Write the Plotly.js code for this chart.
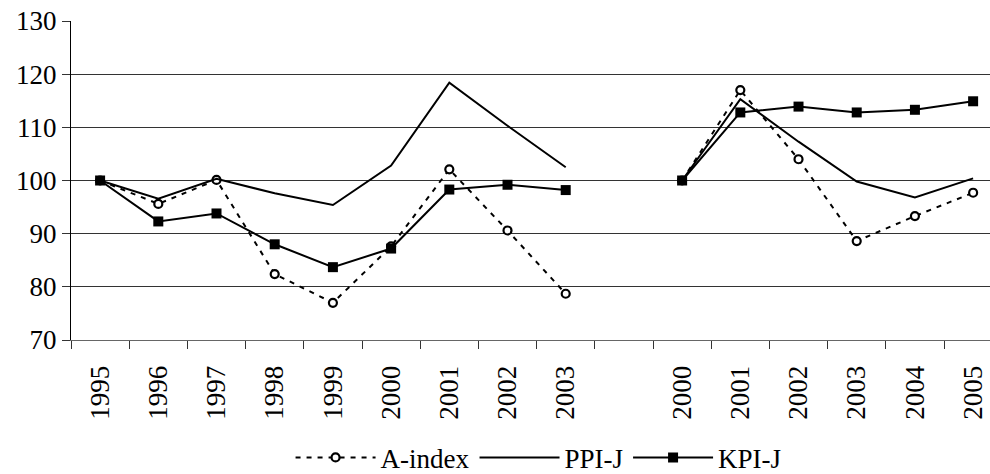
<!DOCTYPE html>
<html>
<head>
<meta charset="utf-8">
<script src="https://cdn.plot.ly/plotly-3.0.1.min.js"></script>
<style>html,body{margin:0;padding:0;background:#fff;}#chart{width:990px;height:474px;}</style>
</head>
<body>
<div id="chart"></div>
<script>
// Category labels (one empty slot separates the two periods)
var categories = ['1995','1996','1997','1998','1999','2000','2001','2002','2003','','2000','2001','2002','2003','2004','2005'];
// Series values (null = gap)
var aIndex = [100, 95.6, 100.1, 82.4, 77.0, 87.6, 102.1, 90.6, 78.7, null, 100, 117.0, 104.0, 88.6, 93.3, 97.7];
var ppiJ   = [100, 96.6, 100.3, 97.6, 95.4, 102.8, 118.4, 110.3, 102.5, null, 100, 115.3, 107.3, 99.8, 96.8, 100.4];
var kpiJ   = [100, 92.3, 93.8, 88.0, 83.7, 87.2, 98.3, 99.2, 98.2, null, 100, 112.8, 113.9, 112.8, 113.3, 114.9];

var pos = categories.map(function(c, i){ return i; });
var tickVals = [], tickText = [];
categories.forEach(function(c, i){ if (c !== '') { tickVals.push(i); tickText.push(c); } });

var font = {family: 'Liberation Serif, Times New Roman, serif', size: 27, color: '#000'};

var traces = [
  {x: pos, y: aIndex, name: 'A-index', type: 'scatter', mode: 'lines+markers', connectgaps: false,
   line: {color: '#000', width: 2, dash: '5px,6px'},
   marker: {symbol: 'circle', size: 8, color: '#fff', line: {color: '#000', width: 2.2}}},
  {x: pos, y: ppiJ, name: 'PPI-J', type: 'scatter', mode: 'lines', connectgaps: false,
   line: {color: '#000', width: 2}},
  {x: pos, y: kpiJ, name: 'KPI-J', type: 'scatter', mode: 'lines+markers', connectgaps: false,
   line: {color: '#000', width: 2},
   marker: {symbol: 'square', size: 10, color: '#000'}}
];

var layout = {
  width: 990, height: 474,
  margin: {l: 71, r: 0, t: 21, b: 134, pad: 0},
  paper_bgcolor: '#fff', plot_bgcolor: '#fff',
  font: font,
  showlegend: true,
  legend: {orientation: 'h', xref: 'container', yref: 'container', x: 0.544, xanchor: 'center',
           y: 0.034, yanchor: 'middle',
           font: font, itemwidth: 80, bgcolor: 'rgba(0,0,0,0)', tracegroupgap: 0, borderwidth: 0},
  xaxis: {
    range: [-0.5, 15.29], tickmode: 'array', tickvals: tickVals, ticktext: tickText,
    tickangle: -90, ticks: '', showgrid: false, zeroline: false,
    showline: true, linecolor: '#666', linewidth: 1,
    minor: {tickmode: 'linear', tick0: 0.5, dtick: 1, ticks: 'outside', ticklen: 8, tickcolor: '#333', tickwidth: 1, showgrid: false},
    tickfont: font, ticklabelstandoff: 14, automargin: false
  },
  yaxis: {
    range: [70, 130], dtick: 10, tick0: 70, ticks: 'outside', ticklen: 8, tickcolor: '#333',
    showgrid: true, gridcolor: '#333', gridwidth: 1, zeroline: false,
    showline: true, linecolor: '#000', linewidth: 1, tickfont: font, automargin: false
  }
};

Plotly.newPlot('chart', traces, layout, {displayModeBar: false, staticPlot: true});
</script>
</body>
</html>
